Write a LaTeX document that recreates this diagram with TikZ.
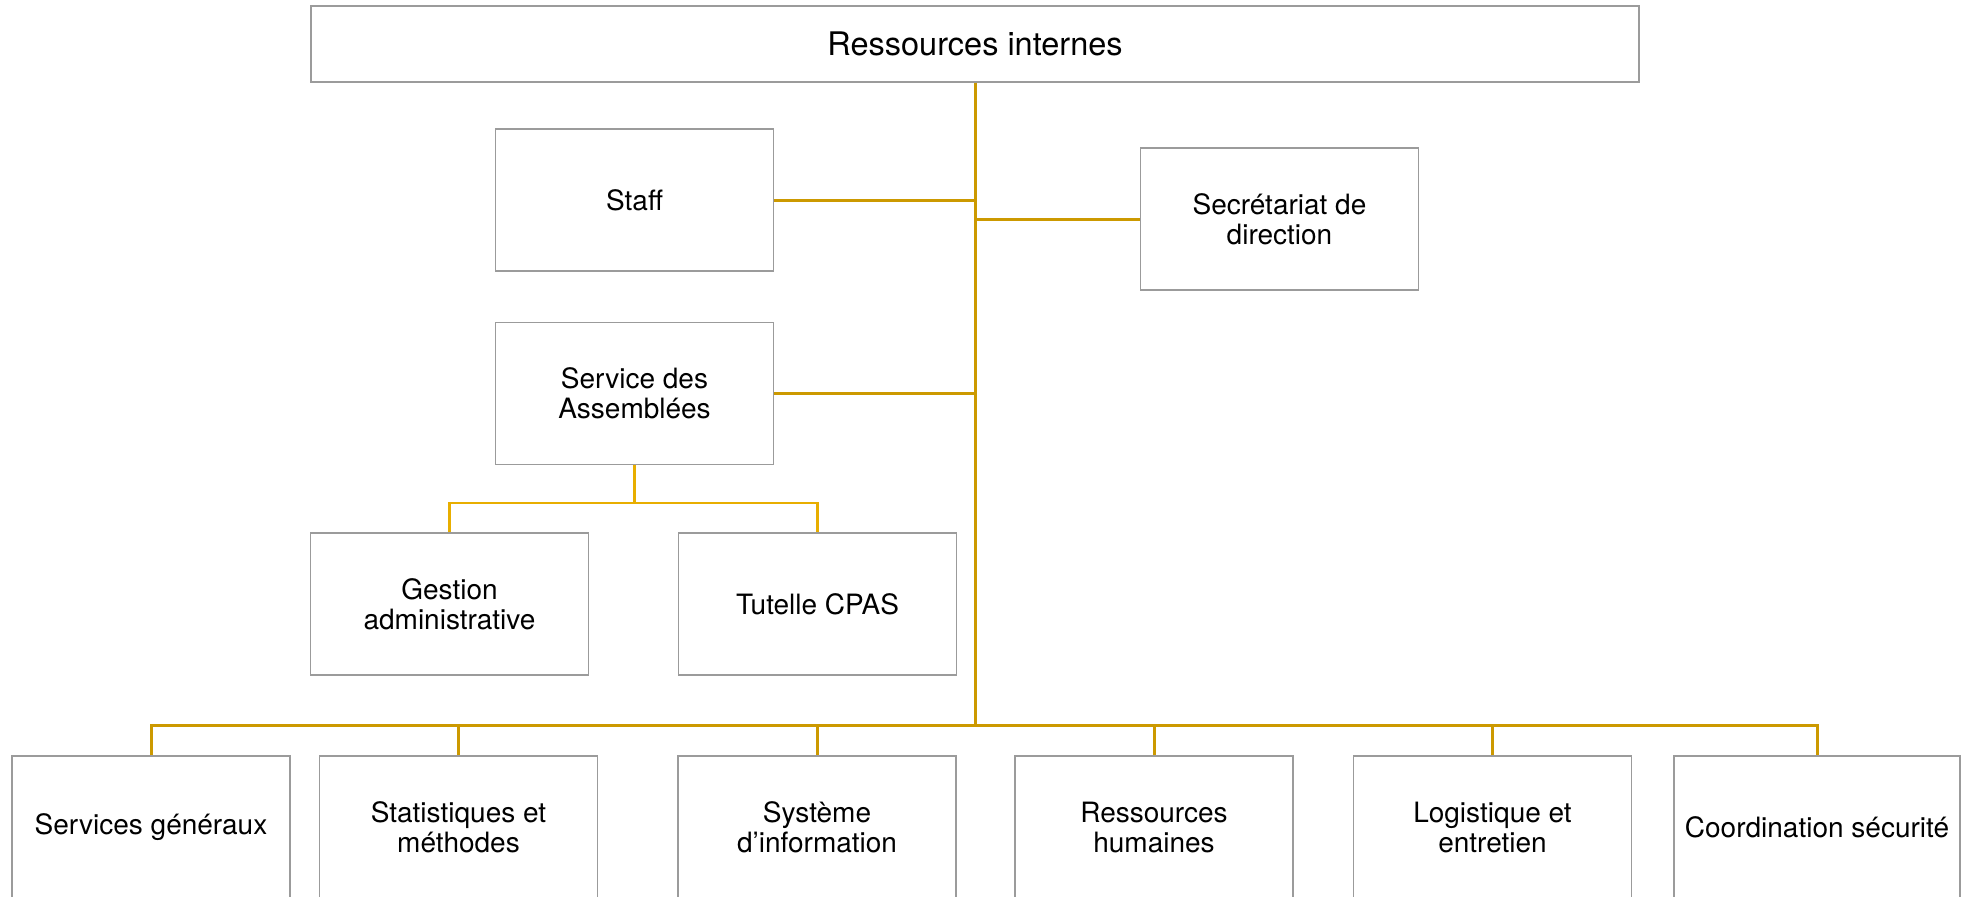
\documentclass[tikz,border=0pt]{standalone}
\usepackage{fontspec}
\setmainfont{TeX Gyre Heros}
\definecolor{linkgold}{RGB}{204,153,0}
\definecolor{linklight}{RGB}{232,174,0}
\definecolor{boxgray}{RGB}{155,155,155}
\tikzset{
  unit/.style={draw=boxgray,line width=1.2pt,minimum width=278pt,minimum height=142pt,
    inner sep=0pt,align=center,font=\fontsize{28}{30}\selectfont},
  link/.style={draw=linkgold,line width=3pt},
  sublink/.style={draw=linklight,line width=2.5pt}
}

\begin{document}
\begin{tikzpicture}[x=1pt,y=-1pt]
  \useasboundingbox (0,0) rectangle (1966,897);

  \node[unit,minimum width=1328pt,minimum height=76pt,font=\fontsize{32.5}{36}\selectfont] (top) at (975,44) {Ressources internes};
  \node[unit] (staff) at (634.5,200) {Staff};
  \node[unit] (secr) at (1279.5,219) {Secrétariat de\\direction};
  \node[unit] (assemb) at (634.5,393.5) {Service des\\Assemblées};
  \node[unit] (gestion) at (449.5,604) {Gestion\\administrative};
  \node[unit] (tutelle) at (817.5,604) {Tutelle CPAS};

  \coordinate (bus) at (975,725);
  \coordinate (split) at (634.5,503);

  % trunk and side branches
  \draw[link] (top.south) -- (bus);
  \draw[link] (staff.east) -- (staff.east -| bus);
  \draw[link] (secr.west) -- (secr.west -| bus);
  \draw[link] (assemb.east) -- (assemb.east -| bus);

  \draw[sublink] (assemb.south) -- (split);
  \draw[sublink] (gestion.north) |- (split) -| (tutelle.north);

  % bottom row
  \foreach[count=\i] \x/\w/\txt in {151/278/Services généraux,
      458.5/278/{Statistiques et\\méthodes},
      817/278/{Système\\d’information},
      1154/278/{Ressources\\humaines},
      1492.5/278/{Logistique et\\entretien},
      1817/286/Coordination sécurité} {
    \node[unit,minimum width=\w pt] (bottom\i) at (\x,827) {\txt};
    \draw[link] (bottom\i.north) |- (bus);
  }
\end{tikzpicture}
\end{document}
